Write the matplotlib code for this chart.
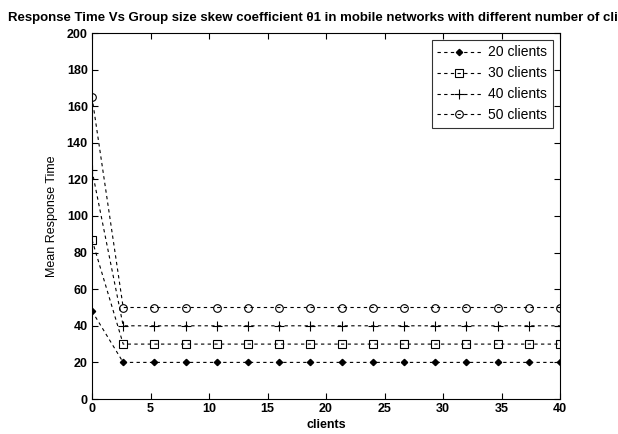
import numpy as np
import matplotlib
matplotlib.use("Agg")
import matplotlib.pyplot as plt

x = np.linspace(0, 40, 16)
series_labels = ["20 clients", "30 clients", "40 clients", "50 clients"]
v20 = [48] + [20] * 15
v30 = [87] + [30] * 15
v40 = [125] + [40] * 15
v50 = [165] + [50] * 15
markers = ["D", "s", "+", "o"]
title = "Response Time Vs Group size skew coefficient \u03b81 in mobile networks with different number of clients"

plt.rcParams['font.family'] = ['Liberation Sans', 'DejaVu Sans']

fig = plt.figure(figsize=(6.18, 4.34), dpi=100)
ax = fig.add_axes([92/618, 1-399/434, (560-92)/618, (399-33)/434])

for vals, m, lab in zip([v20, v30, v40, v50], markers, series_labels):
    kw = dict(color='black', linestyle=(0, (3, 3)), linewidth=0.8, marker=m, label=lab)
    if m == "D":
        kw.update(markersize=3.2, markerfacecolor='black')
    elif m == "+":
        kw.update(markersize=7, markeredgewidth=0.8)
    else:
        kw.update(markersize=5.5, markerfacecolor='none', markeredgewidth=0.8)
    ax.plot(x, vals, **kw)

ax.set_xlim(0, 40)
ax.set_ylim(0, 200)
ax.set_xticks(range(0, 41, 5))
ax.set_yticks(range(0, 201, 20))
ax.tick_params(direction='in', top=True, right=True, length=4, width=0.8, labelsize=9, pad=3)
for lbl in ax.get_xticklabels() + ax.get_yticklabels():
    lbl.set_fontweight('bold')
for s in ax.spines.values():
    s.set_linewidth(0.8)

ax.set_xlabel("clients", fontsize=9, fontweight='bold', labelpad=3)
ax.set_ylabel("Mean Response Time", fontsize=9, labelpad=6)
ax.set_title(title, fontsize=9.5, fontweight='bold', pad=9)

leg = ax.legend(loc='upper right', fontsize=10, frameon=True, fancybox=False,
                edgecolor='black', handlelength=3.2, handletextpad=0.5,
                borderpad=0.4, labelspacing=0.5, borderaxespad=0.5)
leg.get_frame().set_linewidth(0.8)

fig.savefig("out.png", dpi=100)
